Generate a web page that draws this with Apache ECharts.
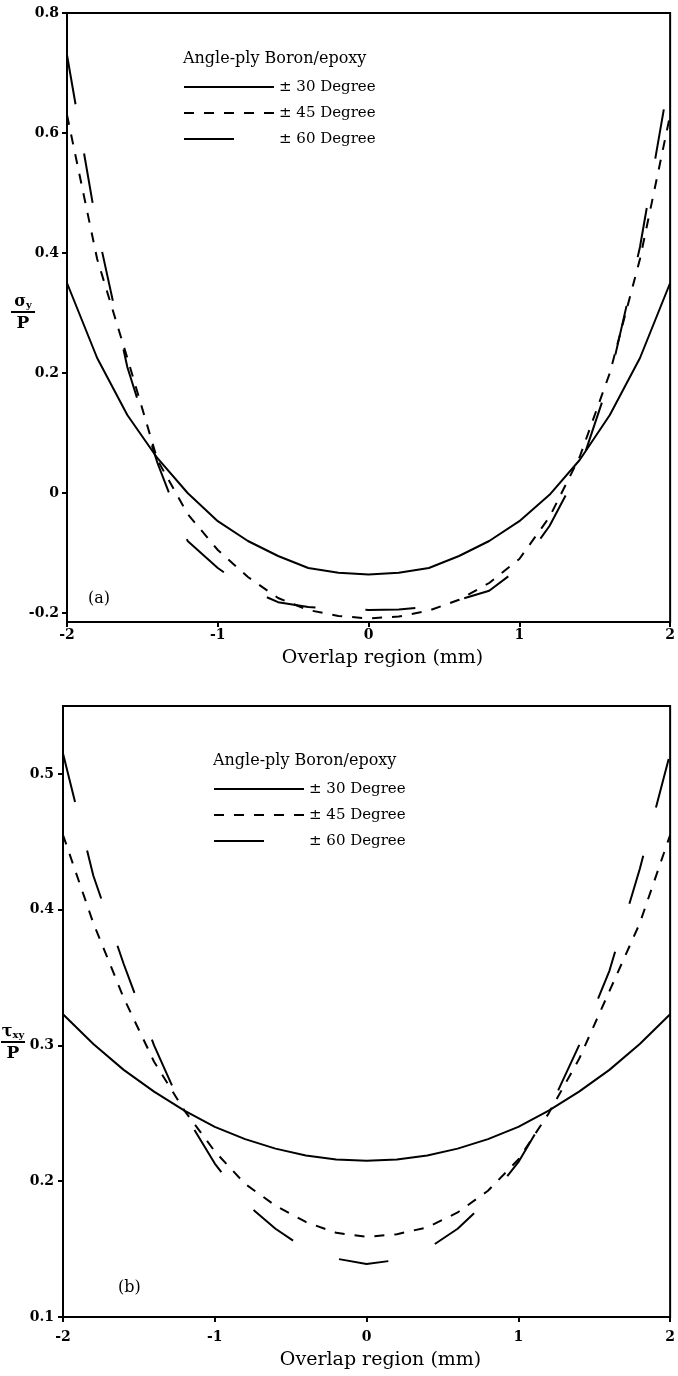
<!DOCTYPE html>
<html lang="en">
<head>
    <meta charset="UTF-8"/>
    <title>Angle-ply Boron/epoxy</title>
    <script src="https://cdn.jsdelivr.net/npm/echarts@6/dist/echarts.min.js"></script>
    <style>html, body { margin: 0; padding: 0; background: #fff; }</style>
</head>
<body>
<div id="main" style="width: 678px; height: 1376px;"></div>
<script type="text/javascript">
    // overlap region positions (mm)
    var xs = [-2.0, -1.8, -1.6, -1.4, -1.2, -1.0, -0.8, -0.6, -0.4, -0.2, 0,
              0.2, 0.4, 0.6, 0.8, 1.0, 1.2, 1.4, 1.6, 1.8, 2.0];

    // (a) sigma_y / P
    var sigma30 = [0.35, 0.225, 0.13, 0.058, 0.0, -0.047, -0.08, -0.105, -0.125, -0.133, -0.136,
                   -0.133, -0.125, -0.105, -0.08, -0.047, -0.003, 0.055, 0.13, 0.225, 0.35];
    var sigma45 = [0.63, 0.39, 0.225, 0.055, -0.035, -0.095, -0.14, -0.175, -0.195, -0.205, -0.209,
                   -0.206, -0.196, -0.178, -0.15, -0.11, -0.04, 0.06, 0.2, 0.39, 0.63];
    var sigma60 = [0.73, 0.44, 0.21, 0.05, -0.08, -0.125, -0.16, -0.182, -0.19, -0.193, -0.195,
                   -0.194, -0.19, -0.178, -0.163, -0.125, -0.055, 0.04, 0.19, 0.41, 0.70];

    // (b) tau_xy / P
    var tau30 = [0.323, 0.301, 0.282, 0.266, 0.252, 0.240, 0.231, 0.224, 0.219, 0.216, 0.215,
                 0.216, 0.219, 0.224, 0.231, 0.240, 0.252, 0.266, 0.282, 0.301, 0.323];
    var tau45 = [0.455, 0.39, 0.335, 0.288, 0.252, 0.222, 0.198, 0.182, 0.17, 0.162, 0.159,
                 0.161, 0.166, 0.177, 0.193, 0.216, 0.25, 0.29, 0.34, 0.39, 0.455];
    var tau60 = [0.515, 0.425, 0.36, 0.30, 0.25, 0.213, 0.184, 0.165, 0.15, 0.143, 0.139,
                 0.142, 0.15, 0.165, 0.186, 0.214, 0.252, 0.30, 0.355, 0.43, 0.515];

    var sigmaTicks = [-0.2, 0, 0.2, 0.4, 0.6, 0.8];
    var tauTicks = [0.1, 0.2, 0.3, 0.4, 0.5];
    var names = ['\u00b1 30 Degree', '\u00b1 45 Degree', '\u00b1 60 Degree'];
    var dashes = ['solid', [10, 10], [50, 50]];

    var FONT = 'DejaVu Serif';

    function pairs(ys) {
        return xs.map(function (x, i) { return [x, ys[i]]; });
    }

    function xAxisFor(idx, labelMargin, nameGap) {
        return {
            type: 'value', gridIndex: idx, min: -2, max: 2, interval: 1,
            name: 'Overlap region (mm)', nameLocation: 'middle', nameGap: nameGap,
            nameTextStyle: { fontFamily: FONT, fontSize: 19, color: '#000', padding: [0, 0, 0, 28] },
            axisLine: { onZero: false, lineStyle: { color: '#000', width: 2 } },
            axisTick: { inside: false, length: 5, lineStyle: { color: '#000', width: 2 } },
            axisLabel: { margin: labelMargin, fontFamily: FONT, fontWeight: 'bold', fontSize: 14, color: '#000' },
            splitLine: { show: false }
        };
    }

    function yAxisFor(idx, min, max, ticks, labelMargin) {
        return {
            type: 'value', gridIndex: idx, min: min, max: max,
            axisLine: { onZero: false, lineStyle: { color: '#000', width: 2 } },
            axisTick: { length: 5, customValues: ticks, lineStyle: { color: '#000', width: 2 } },
            axisLabel: { margin: labelMargin, customValues: ticks, fontFamily: FONT, fontWeight: 'bold', fontSize: 14, color: '#000' },
            splitLine: { show: false }
        };
    }

    var series = [];
    [[sigma30, sigma45, sigma60], [tau30, tau45, tau60]].forEach(function (set, g) {
        set.forEach(function (ys, k) {
            series.push({
                name: names[k], type: 'line', xAxisIndex: g, yAxisIndex: g,
                data: pairs(ys), symbol: 'none', showSymbol: false, silent: true,
                color: '#000',
                lineStyle: { color: '#000', width: 2, type: dashes[k] }
            });
        });
    });

    function legendFor(left, top) {
        return {
            orient: 'vertical', left: left, top: top, data: names, padding: 0,
            itemWidth: 90, itemHeight: 18, itemGap: 8, selectedMode: false,
            itemStyle: { opacity: 0 },
            textStyle: { fontFamily: FONT, fontSize: 15, color: '#000', lineHeight: 18 }
        };
    }

    function fraction(cx, lineY, sym, sub) {
        return [
            { type: 'text', x: cx, y: lineY - 2, style: {
                text: '{g|' + sym + '}{s|' + sub + '}', align: 'center', verticalAlign: 'bottom',
                rich: { g: { fontFamily: FONT, fontSize: 16, fontWeight: 'bold' },
                        s: { fontFamily: FONT, fontSize: 10, fontWeight: 'bold', verticalAlign: 'bottom' } } } },
            { type: 'line', shape: { x1: cx - 12, y1: lineY, x2: cx + 12, y2: lineY },
              style: { stroke: '#000', lineWidth: 2 } },
            { type: 'text', x: cx, y: lineY + 3, style: {
                text: 'P', align: 'center', verticalAlign: 'top',
                fontFamily: FONT, fontSize: 17, fontWeight: 'bold', fill: '#000' } }
        ];
    }

    var myChart = echarts.init(document.getElementById('main'));

    option = {
        backgroundColor: '#fff',
        animation: false,
        title: [
            { text: 'Angle-ply Boron/epoxy', left: 183, top: 51, padding: 0,
              textStyle: { fontFamily: FONT, fontSize: 16, fontWeight: 'normal', color: '#000' } },
            { text: 'Angle-ply Boron/epoxy', left: 213, top: 753, padding: 0,
              textStyle: { fontFamily: FONT, fontSize: 16, fontWeight: 'normal', color: '#000' } }
        ],
        legend: [legendFor(183, 78), legendFor(213, 780)],
        grid: [
            { left: 67, top: 13, width: 608, height: 609, show: true, borderColor: '#000', borderWidth: 2 },
            { left: 63, top: 706, width: 612, height: 611, show: true, borderColor: '#000', borderWidth: 2 }
        ],
        xAxis: [xAxisFor(0, 6, 27), xAxisFor(1, 13, 34)],
        yAxis: [yAxisFor(0, -0.215, 0.8, sigmaTicks, 8), yAxisFor(1, 0.1, 0.55, tauTicks, 9)],
        graphic: [
            { type: 'text', left: 88, top: 591, style: { text: '(a)', fontFamily: FONT, fontSize: 16, fill: '#000' } },
            { type: 'text', left: 118, top: 1280, style: { text: '(b)', fontFamily: FONT, fontSize: 16, fill: '#000' } }
        ].concat(fraction(23, 312, '\u03c3', 'y'), fraction(13, 1042, '\u03c4', 'xy')),
        series: series
    };

    myChart.setOption(option);
</script>
</body>
</html>
